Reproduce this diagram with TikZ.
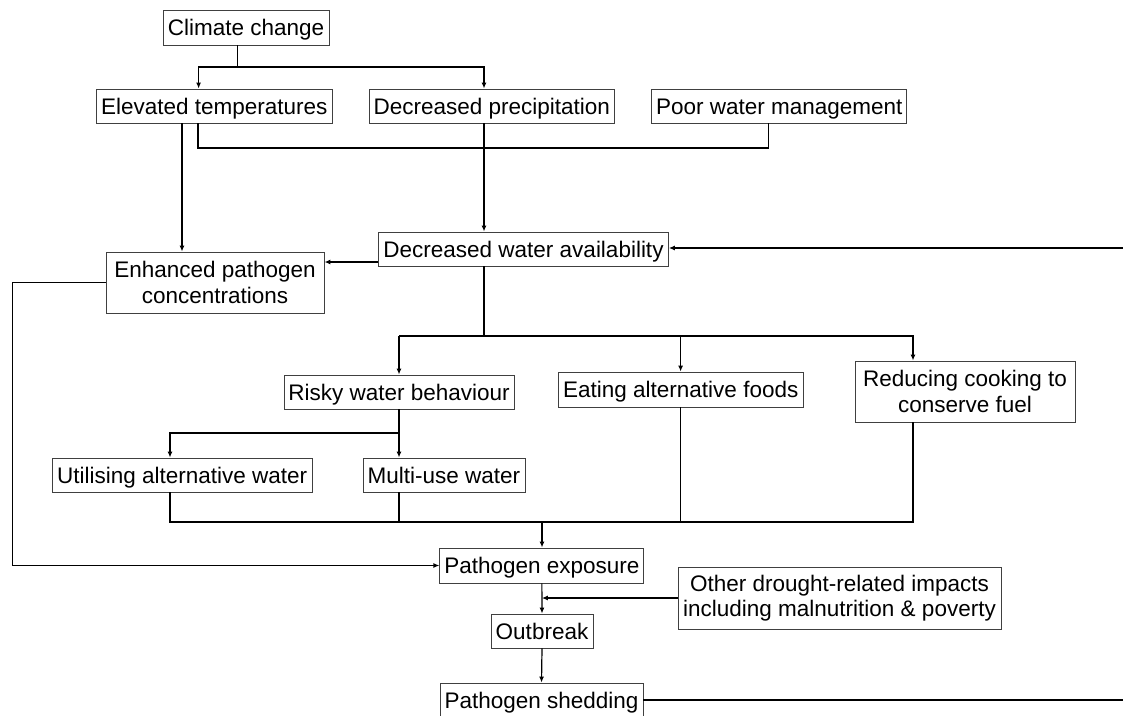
\documentclass[tikz,border=0pt]{standalone}
\usepackage{fontspec}
\setmainfont{Liberation Sans}
\usetikzlibrary{arrows.meta}
\tikzset{
  box/.style={draw=black!75, line width=0.9pt, inner sep=0pt, align=center,
    font=\fontsize{22.5}{25.5}\selectfont, fill=white},
  oneline/.style={box, text height=17pt, text depth=1pt},
  twoline/.style={box},
  conn/.style={line width=1.2pt, black},
  arr/.style={conn, -{Latex[length=6pt,width=5pt]}}
}
\begin{document}
\begin{tikzpicture}[x=1pt,y=-1pt]
\useasboundingbox (0,0) rectangle (1123,715);
% nodes
\node[oneline, minimum width=166pt, minimum height=35pt] (cc) at (246,27.5) {Climate change};
\node[oneline, minimum width=236.5pt, minimum height=34pt] (et) at (214.25,106) {Elevated temperatures};
\node[oneline, minimum width=245.6pt, minimum height=34pt] (dp) at (491.8,106) {Decreased precipitation};
\node[oneline, minimum width=255.3pt, minimum height=34pt] (pw) at (779.25,106) {Poor water management};
\node[oneline, minimum width=289.8pt, minimum height=34pt] (dwa) at (523.5,249) {Decreased water availability};
\node[twoline, minimum width=218pt, minimum height=61pt] (epc) at (215,282.5) {Enhanced pathogen\\concentrations};
\node[oneline, minimum width=230pt, minimum height=34pt] (rwb) at (399,392) {Risky water behaviour};
\node[oneline, minimum width=245.5pt, minimum height=35pt] (eaf) at (680.75,389.5) {Eating alternative foods};
\node[twoline, minimum width=220pt, minimum height=61pt] (rcc) at (965,391.5) {Reducing cooking to\\conserve fuel};
\node[oneline, minimum width=259.5pt, minimum height=34pt] (uaw) at (182.25,475) {Utilising alternative water};
\node[oneline, minimum width=162pt, minimum height=34pt] (muw) at (444,475) {Multi-use water};
\node[oneline, minimum width=204pt, minimum height=35pt] (pe) at (541.85,565.5) {Pathogen exposure};
\node[twoline, minimum width=323pt, minimum height=62pt] (od) at (839.5,598) {Other drought-related impacts\\including malnutrition \& poverty};
\node[oneline, minimum width=102pt, minimum height=34pt] (ob) at (542,631) {Outbreak};
\node[oneline, minimum width=203pt, minimum height=34pt] (ps) at (541.5,700) {Pathogen shedding};
\coordinate (rin) at (1123,248);
\coordinate (rout) at (1123,700);
% connectors
\draw[conn] (237.5,0 |- cc.south) -- (237.5,67);
\draw[arr] (237.5,67) -| (198.6,0 |- et.north);
\draw[arr] (237.5,67) -| (484,0 |- dp.north);
\draw[arr] (182,0 |- et.south) -- (182,0 |- epc.north);
\draw[conn] (198,0 |- et.south) -- (198,148) -| (768.6,0 |- pw.south);
\draw[arr] (484,0 |- dp.south) -- (484,0 |- dwa.north);
\draw[arr] (dwa.west |- 0,262) -- (epc.east |- 0,262);
\draw[arr] (rin) -- (dwa.east |- rin);
\draw[conn] (484,0 |- dwa.south) -- (484,336);
\draw[arr] (399,336) -- (rwb.north);
\draw[arr] (399,336) -| (680.6,0 |- eaf.north);
\draw[arr] (680.6,336) -| (913,0 |- rcc.north);
\draw[conn] (rwb.south) -- (399,433);
\draw[arr] (399,433) -| (170,0 |- uaw.north);
\draw[arr] (399,433) -- (399,0 |- muw.north);
\draw[conn] (170,0 |- uaw.south) -- (170,522) -- (913,522) -- (913,0 |- rcc.south);
\draw[conn] (399,0 |- muw.south) -- (399,522);
\draw[conn] (680.6,0 |- eaf.south) -- (680.6,522);
\draw[arr] (542,522) -- (542,0 |- pe.north);
\draw[arr] (epc.west) -- (12.5,0 |- epc.west) |- (pe.west);
\draw[arr] (pe.south) -- (ob.north);
\draw[arr] (od.west) -- (pe.south |- od.west);
\draw[arr] (ob.south) -- (ps.north);
\draw[conn] (ps.east) -- (rout);
\end{tikzpicture}
\end{document}
